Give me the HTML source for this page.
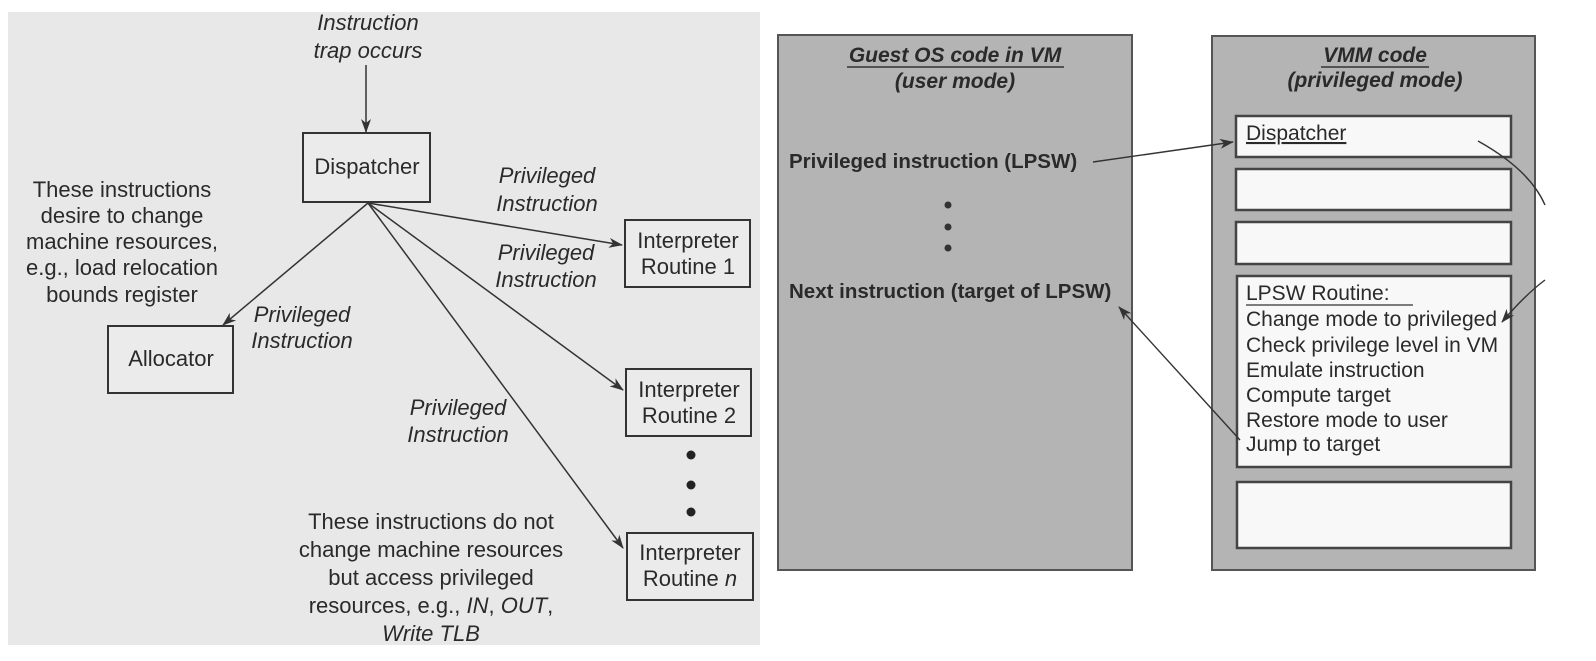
<!DOCTYPE html>
<html><head><meta charset="utf-8"><style>
html,body{margin:0;padding:0;background:#fff;width:1596px;height:661px;overflow:hidden}
svg{display:block}
text{font-family:"Liberation Sans",Arial,sans-serif;fill:#2a2a2a}
.i{font-style:italic}
.b{font-weight:bold}
</style></head><body>
<svg width="1596" height="661" viewBox="0 0 1596 661" xmlns="http://www.w3.org/2000/svg">
<defs>
<marker id="a" markerWidth="14" markerHeight="10" refX="13" refY="5" orient="auto" markerUnits="userSpaceOnUse">
<path d="M0,0 L14,5 L0,10 L4,5 z" fill="#333"/></marker>
</defs>
<rect x="8" y="12" width="752" height="633" fill="#e8e8e8"/>
<g stroke="#333" stroke-width="1.5" fill="none">
<line x1="366" y1="65" x2="366" y2="132" marker-end="url(#a)"/>
<line x1="368" y1="203" x2="223" y2="325" marker-end="url(#a)"/>
<line x1="368" y1="203" x2="622" y2="245" marker-end="url(#a)"/>
<line x1="368" y1="203" x2="623" y2="390" marker-end="url(#a)"/>
<line x1="368" y1="203" x2="623" y2="548" marker-end="url(#a)"/>
</g>
<g stroke="#333" stroke-width="2" fill="#ebebeb">
<rect x="303" y="133" width="127" height="69"/>
<rect x="108" y="326" width="125" height="67"/>
<rect x="625" y="220" width="125" height="67"/>
<rect x="626" y="369" width="125" height="67"/>
<rect x="627" y="533" width="126" height="67"/>
</g>
<g font-size="22" text-anchor="middle">
<text x="368" y="30" class="i">Instruction</text>
<text x="368" y="58" class="i">trap occurs</text>
<text x="367" y="174">Dispatcher</text>
<text x="122" y="197">These instructions</text>
<text x="122" y="223">desire to change</text>
<text x="122" y="249">machine resources,</text>
<text x="122" y="275">e.g., load relocation</text>
<text x="122" y="302">bounds register</text>
<text x="171" y="366">Allocator</text>
<text x="547" y="183" class="i">Privileged</text>
<text x="547" y="211" class="i">Instruction</text>
<text x="546" y="260" class="i">Privileged</text>
<text x="546" y="287" class="i">Instruction</text>
<text x="302" y="322" class="i">Privileged</text>
<text x="302" y="348" class="i">Instruction</text>
<text x="458" y="415" class="i">Privileged</text>
<text x="458" y="442" class="i">Instruction</text>
<text x="688" y="248">Interpreter</text>
<text x="688" y="274">Routine 1</text>
<text x="689" y="397">Interpreter</text>
<text x="689" y="423">Routine 2</text>
<text x="690" y="560">Interpreter</text>
<text x="690" y="586">Routine <tspan class="i">n</tspan></text>
<text x="431" y="529">These instructions do not</text>
<text x="431" y="557">change machine resources</text>
<text x="431" y="585">but access privileged</text>
<text x="431" y="613">resources, e.g., <tspan class="i">IN</tspan>, <tspan class="i">OUT</tspan>,</text>
<text x="431" y="641" class="i">Write TLB</text>
</g>
<g fill="#222"><circle cx="691" cy="455" r="4.5"/><circle cx="691" cy="485" r="4.5"/><circle cx="691" cy="512" r="4.5"/></g>
<rect x="778" y="35" width="354" height="535" fill="#b4b4b4" stroke="#555" stroke-width="2"/>
<rect x="1212" y="36" width="323" height="534" fill="#b4b4b4" stroke="#555" stroke-width="2"/>
<g fill="#f8f8f8" stroke="#444" stroke-width="2.5">
<rect x="1236" y="116" width="275" height="41"/>
<rect x="1236" y="169" width="275" height="41"/>
<rect x="1236" y="222" width="275" height="42"/>
<rect x="1237" y="276" width="274" height="191"/>
<rect x="1237" y="482" width="274" height="66"/>
</g>
<g font-size="21" text-anchor="middle" class="b i">
<text x="955" y="62">Guest OS code in VM</text>
<text x="955" y="88">(user mode)</text>
<text x="1375" y="62">VMM code</text>
<text x="1375" y="87">(privileged mode)</text>
</g>
<g stroke="#333" stroke-width="1.5"><line x1="847" y1="67" x2="1064" y2="67"/><line x1="1321" y1="67" x2="1429" y2="67"/></g>
<g font-size="20.5" class="b" fill="#333">
<text x="789" y="168">Privileged instruction (LPSW)</text>
<text x="789" y="298">Next instruction (target of LPSW)</text>
</g>
<g fill="#333"><circle cx="948" cy="205" r="3.5"/><circle cx="948" cy="227" r="3.5"/><circle cx="948" cy="248" r="3.5"/></g>
<g font-size="21">
<text x="1246" y="140" text-decoration="underline">Dispatcher</text>
<text x="1246" y="300">LPSW Routine:</text>
<text x="1246" y="326">Change mode to privileged</text>
<text x="1246" y="352">Check privilege level in VM</text>
<text x="1246" y="377">Emulate instruction</text>
<text x="1246" y="402">Compute target</text>
<text x="1246" y="427">Restore mode to user</text>
<text x="1246" y="451">Jump to target</text>
</g>
<line x1="1246" y1="305" x2="1413" y2="305" stroke="#333" stroke-width="1.3"/>
<g stroke="#333" stroke-width="1.4" fill="none">
<line x1="1093" y1="162" x2="1233" y2="142" marker-end="url(#a)"/>
<path d="M1478,141 Q1530,170 1545,205"/>
<path d="M1545,280 Q1525,295 1502,322" marker-end="url(#a)"/>
<line x1="1240" y1="440" x2="1119" y2="307" marker-end="url(#a)"/>
</g>
</svg>
</body></html>
